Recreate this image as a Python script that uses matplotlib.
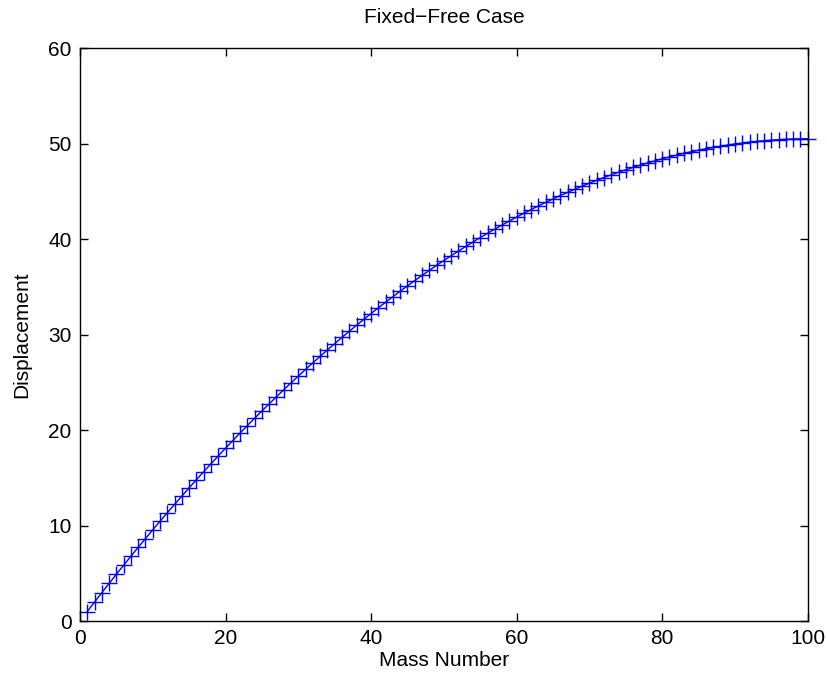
import numpy as np
import matplotlib.pyplot as plt

plt.rcParams['font.family'] = ['Liberation Sans', 'DejaVu Sans']

# mass index and displacement values
mass = list(range(1, 101))
disp = [1.00, 1.99, 2.97, 3.94, 4.90, 5.85, 6.79, 7.72, 8.64, 9.55,
        10.45, 11.34, 12.22, 13.09, 13.95, 14.80, 15.64, 16.47, 17.29, 18.10,
        18.90, 19.69, 20.47, 21.24, 22.00, 22.75, 23.49, 24.22, 24.94, 25.65,
        26.35, 27.04, 27.72, 28.39, 29.05, 29.70, 30.34, 30.97, 31.59, 32.20,
        32.80, 33.39, 33.97, 34.54, 35.10, 35.65, 36.19, 36.72, 37.24, 37.75,
        38.25, 38.74, 39.22, 39.69, 40.15, 40.60, 41.04, 41.47, 41.89, 42.30,
        42.70, 43.09, 43.47, 43.84, 44.20, 44.55, 44.89, 45.22, 45.54, 45.85,
        46.15, 46.44, 46.72, 46.99, 47.25, 47.50, 47.74, 47.97, 48.19, 48.40,
        48.60, 48.79, 48.97, 49.14, 49.30, 49.45, 49.59, 49.72, 49.84, 49.95,
        50.05, 50.14, 50.22, 50.29, 50.35, 50.40, 50.44, 50.47, 50.49, 50.50]

xticks = [0, 20, 40, 60, 80, 100]
yticks = [0, 10, 20, 30, 40, 50, 60]

fig = plt.figure(figsize=(8.27, 6.81), dpi=100)
ax = fig.add_axes([0.0967, 0.088, 0.880, 0.8415])

ax.plot(mass, disp, color='blue', marker='+', markersize=11,
        markeredgewidth=1.0, linewidth=1.0, clip_on=False)

ax.set_xlim(0, 100)
ax.set_ylim(0, 60)
ax.set_xticks(xticks)
ax.set_yticks(yticks)
ax.tick_params(direction='in', top=True, right=True, length=6,
               labelsize=15, width=1)
ax.tick_params(axis='x', pad=6)
ax.tick_params(axis='y', pad=6)
for s in ax.spines.values():
    s.set_linewidth(1)

ax.set_xlabel('Mass Number', fontsize=15, labelpad=2)
ax.set_ylabel('Displacement', fontsize=15, labelpad=12)
ax.set_title('Fixed\u2212Free Case', fontsize=15, pad=18)

fig.savefig('out.png', dpi=100)
